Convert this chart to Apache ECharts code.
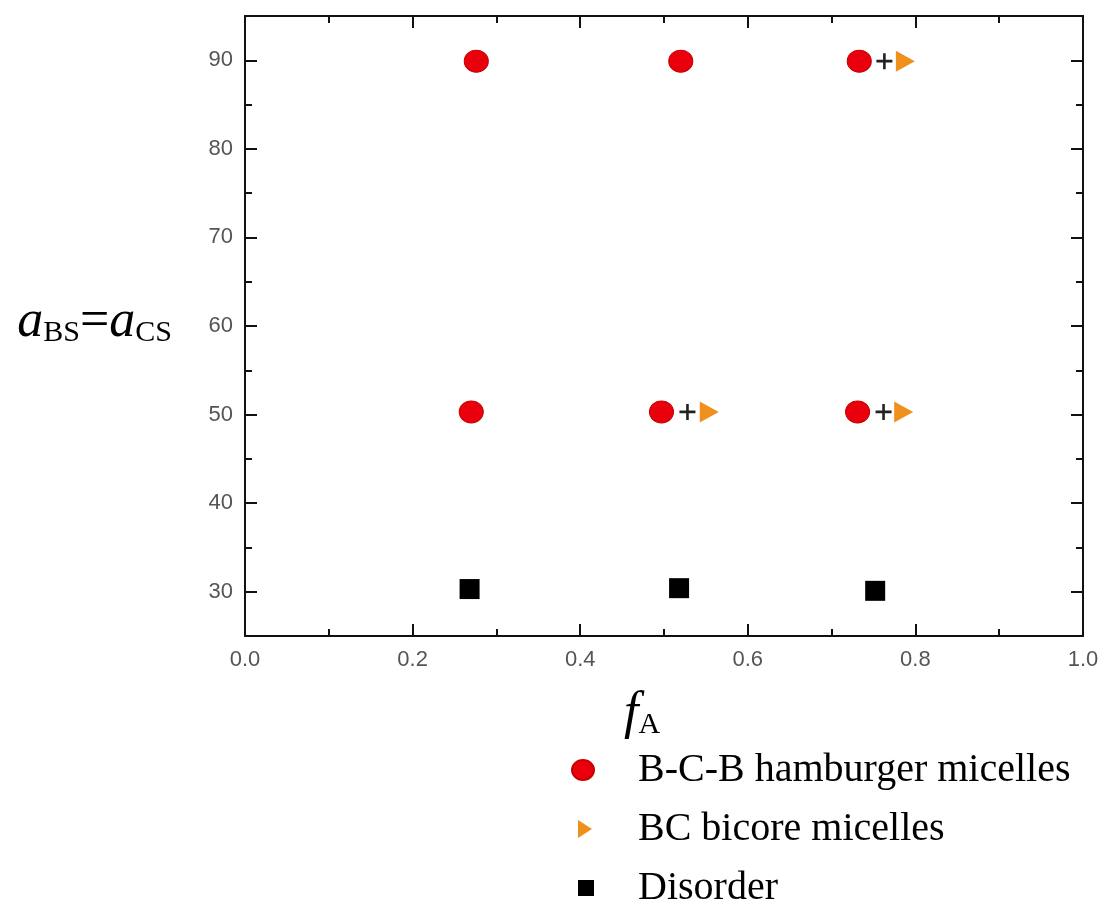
<!DOCTYPE html>
<html>
<head>
<meta charset="utf-8">
<script src="https://cdn.jsdelivr.net/npm/echarts@6/dist/echarts.min.js"></script>
<style>
  html, body { margin: 0; padding: 0; background: #fff; }
  #main { width: 1104px; height: 906px; }
</style>
</head>
<body>
<div id="main"></div>
<script>
// values: [fA, aBS=aCS]
var hamburger = [[0.276, 89.9], [0.520, 89.9], [0.733, 89.9], [0.270, 50.3], [0.497, 50.3], [0.731, 50.3]];
var bicore = [[0.788, 89.9], [0.554, 50.3], [0.786, 50.3]];
var plusSigns = [[0.763, 89.9], [0.528, 50.3], [0.762, 50.3]];
var disorder = [[0.268, 30.3], [0.518, 30.4], [0.752, 30.1]];

var yMajorTicks = [30, 40, 50, 60, 70, 80, 90];
var yMinorTicks = [35, 45, 55, 65, 75, 85];
var seriesNames = ['B-C-B hamburger micelles', 'BC bicore micelles', 'Disorder'];

var axisColor = '#111';
var labelFont = { fontFamily: 'Liberation Sans', fontSize: 22, color: '#555' };

function xAxisDef(pos, showLabel) {
    return {
        type: 'value', position: pos, min: 0, max: 1, interval: 0.2,
        axisLine: { show: true, onZero: false, lineStyle: { color: axisColor, width: 2 } },
        axisTick: { show: true, inside: true, length: 12, lineStyle: { color: axisColor, width: 2 } },
        minorTick: { show: true, splitNumber: 2, length: 7, lineStyle: { color: axisColor, width: 2 } },
        axisLabel: Object.assign({ show: showLabel, margin: 13, formatter: function (v) { return v.toFixed(1); } }, labelFont),
        splitLine: { show: false }
    };
}
function yAxisDef(pos, ticks, len, showLine, showLabel) {
    return {
        type: 'value', position: pos, min: 25, max: 95,
        axisLine: { show: showLine, onZero: false, lineStyle: { color: axisColor, width: 2 } },
        axisTick: { show: true, inside: true, length: len, customValues: ticks, lineStyle: { color: axisColor, width: 2 } },
        axisLabel: Object.assign({ show: showLabel, margin: 12, customValues: ticks }, labelFont),
        splitLine: { show: false }
    };
}

var mainText = { fontFamily: 'Liberation Serif', fontStyle: 'italic', fontSize: 52, lineHeight: 52, verticalAlign: 'bottom', color: '#000' };
var subText = { fontFamily: 'Liberation Serif', fontSize: 30, lineHeight: 22, verticalAlign: 'bottom', color: '#000' };

var myChart = echarts.init(document.getElementById('main'));
var option = {
    backgroundColor: '#fff',
    animation: false,
    grid: { left: 245, right: 21, top: 16, bottom: 270 },
    xAxis: [xAxisDef('bottom', true), xAxisDef('top', false)],
    yAxis: [
        yAxisDef('left', yMajorTicks, 12, true, true),
        yAxisDef('left', yMinorTicks, 7, false, false),
        yAxisDef('right', yMajorTicks, 12, true, false),
        yAxisDef('right', yMinorTicks, 7, false, false)
    ],
    legend: {
        orient: 'vertical', left: 570, top: 750, height: 200, padding: 0,
        itemWidth: 24, itemHeight: 22, itemGap: 19,
        textStyle: { fontFamily: 'Liberation Serif', fontSize: 40, lineHeight: 40, color: '#000', padding: [0, 0, 0, 38] },
        data: [
            { name: seriesNames[0], icon: 'path://M0,0 M24,22 M1,11 A11,10 0 1,0 23,11 A11,10 0 1,0 1,11 Z' },
            { name: seriesNames[1], icon: 'path://M0,0 M24,22 M7,2 L21,11 L7,20 Z' },
            { name: seriesNames[2], icon: 'path://M0,0 M24,22 M7,3 L23,3 L23,19 L7,19 Z' }
        ]
    },
    graphic: [
        {
            type: 'text', right: 932, top: 296,
            style: {
                text: '{a|a}{s|BS}{e|=}{a|a}{s|CS}',
                rich: {
                    a: mainText,
                    s: subText,
                    e: Object.assign({}, mainText, { fontStyle: 'normal' })
                }
            }
        },
        {
            type: 'text', left: 624, top: 688,
            style: {
                text: '{f|f}{s|A}',
                rich: { f: mainText, s: subText }
            }
        }
    ],
    series: [
        {
            name: seriesNames[0], type: 'scatter', data: hamburger,
            symbol: 'path://M0,11 A12,11 0 1,0 24,11 A12,11 0 1,0 0,11 Z', symbolSize: [24, 22],
            itemStyle: { color: '#e9000c', borderColor: '#c40000', borderWidth: 1, opacity: 1 }
        },
        {
            name: seriesNames[1], type: 'scatter', data: bicore,
            symbol: 'path://M0,0 L20,11 L0,22 Z', symbolSize: [19, 21],
            itemStyle: { color: '#f0901c', opacity: 1 }
        },
        {
            name: 'plus', type: 'scatter', data: plusSigns,
            symbol: 'path://M6.7,0 L9.3,0 L9.3,6.7 L16,6.7 L16,9.3 L9.3,9.3 L9.3,16 L6.7,16 L6.7,9.3 L0,9.3 L0,6.7 L6.7,6.7 Z', symbolSize: 16,
            itemStyle: { color: '#222', opacity: 1 }
        },
        {
            name: seriesNames[2], type: 'scatter', data: disorder,
            symbol: 'rect', symbolSize: 20,
            itemStyle: { color: '#000', opacity: 1 }
        }
    ]
};
myChart.setOption(option);
</script>
</body>
</html>
